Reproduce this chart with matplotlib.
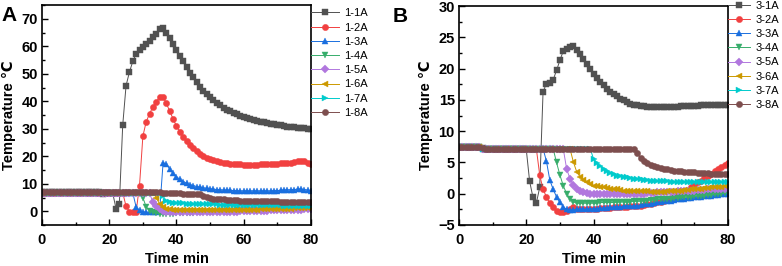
import matplotlib
matplotlib.use("Agg")
import matplotlib.pyplot as plt

plt.rcParams['font.family'] = ['Liberation Sans', 'DejaVu Sans']
plt.rcParams['font.weight'] = 'bold'

# time axis, one reading per minute
t = list(range(81))

# ---- panel A data ----
a1 = [6.9]*18 + [6.1, 6.8, 6.8, 6.8, 1.0, 2.6, 31.2, 45.7, 50.6, 54.5, 57.3, 58.6,
      59.7, 61.0, 62.0, 63.2, 64.6, 66.1, 66.5, 65.0, 62.9, 60.7,
      58.6, 56.4, 54.5, 52.3, 50.4, 48.7, 47.0, 45.3, 43.7, 42.5,
      41.4, 40.3, 39.3, 38.5, 37.6, 36.9, 36.3, 35.7, 35.2, 34.7,
      34.3, 33.9, 33.5, 33.2, 32.9, 32.6, 32.3, 32.0, 31.8, 31.6,
      31.4, 31.2, 31.0, 30.8, 30.7, 30.5, 30.4, 30.2, 30.1, 29.9,
      29.8]
a2 = [6.8]*25 + [1.8, -0.1, -0.4, -0.1, 9.3,
      27.3, 32.6, 35.5, 38.0, 39.9, 41.4, 41.6, 39.2, 36.3, 33.6,
      30.9, 29.0, 27.0, 25.6, 24.1, 22.9, 21.8, 20.9, 20.0, 19.4,
      18.9, 18.5, 18.1, 17.8, 17.6, 17.4, 17.3, 17.2, 17.1, 17.1,
      17.0, 17.0, 17.0, 17.0, 17.0, 17.1, 17.1, 17.2, 17.2, 17.3,
      17.3, 17.4, 17.5, 17.6, 17.7, 17.9, 18.1, 18.3, 18.1, 17.6,
      17.3]
a3 = [6.7]*28 + [1.5, 0.3,
      -0.3, -0.4, -0.4, -0.4, -0.3, 0.5, 17.5, 17.2, 15.3, 13.8,
      12.6, 11.6, 10.8, 10.2, 9.7, 9.3, 9.0, 8.7, 8.5, 8.3,
      8.1, 8.0, 7.9, 7.8, 7.7, 7.6, 7.6, 7.5, 7.5, 7.4,
      7.4, 7.4, 7.4, 7.4, 7.4, 7.4, 7.4, 7.4, 7.4, 7.5,
      7.5, 7.6, 7.7, 7.8, 7.8, 7.9, 8.0, 8.0, 7.9, 7.7,
      7.5]
a4 = [6.6]*30 + [5.0, 1.5, 0.2, -0.4, -0.7, -0.9, -1.0, -1.0, -1.0, -0.9,
      -0.8, -0.8, -0.7, -0.6, -0.6, -0.5, -0.4, -0.4, -0.3, -0.3,
      -0.2, -0.1, -0.1, 0.0, 0.0, 0.1, 0.2, 0.2, 0.3, 0.3,
      0.4, 0.5, 0.5, 0.6, 0.6, 0.7, 0.7, 0.8, 0.8, 0.9,
      0.9, 0.9, 1.0, 1.0, 1.1, 1.1, 1.1, 1.2, 1.2, 1.2,
      1.3]
a5 = [6.6]*33 + [3.2, 1.8, 0.8, 0.2, -0.1, -0.2, -0.3,
      -0.3, -0.3, -0.3, -0.3, -0.3, -0.3, -0.3, -0.3, -0.3, -0.3,
      -0.3, -0.3, -0.2, -0.2, -0.2, -0.2, -0.1, -0.1, -0.1, 0.0,
      0.0, 0.0, 0.1, 0.1, 0.1, 0.2, 0.2, 0.2, 0.3, 0.3,
      0.4, 0.4, 0.4, 0.5, 0.5, 0.6, 0.6, 0.6, 0.7, 0.7,
      0.8]
a6 = [6.6]*34 + [5.0, 2.5, 1.5, 1.0, 0.7, 0.5,
      0.4, 0.4, 0.3, 0.3, 0.3, 0.3, 0.3, 0.3, 0.3, 0.3,
      0.3, 0.3, 0.3, 0.3, 0.4, 0.4, 0.4, 0.4, 0.5, 0.5,
      0.5, 0.5, 0.6, 0.6, 0.6, 0.7, 0.7, 0.7, 0.8, 0.8,
      0.9, 0.9, 0.9, 1.0, 1.0, 1.1, 1.1, 1.1, 1.2, 1.2,
      1.3]
a7 = [6.6]*36 + [5.5, 3.8, 3.3, 3.1,
      3.0, 2.9, 2.9, 2.8, 2.8, 2.7, 2.7, 2.6, 2.6, 2.6,
      2.5, 2.5, 2.5, 2.4, 2.4, 2.3, 2.3, 2.3, 2.3, 2.2,
      2.2, 2.2, 2.2, 2.2, 2.1, 2.1, 2.1, 2.1, 2.1, 2.1,
      2.1, 2.1, 2.0, 2.0, 2.0, 2.0, 2.0, 2.0, 2.0, 2.0,
      2.0]
a8 = [6.9]*36 + [6.8, 6.8, 6.7, 6.6,
      6.6, 6.5, 6.4, 6.4, 6.3, 6.3, 6.3, 6.2, 5.6, 5.1,
      4.8, 4.6, 4.5, 4.4, 4.3, 4.2, 4.1, 4.0, 4.0, 3.9,
      3.9, 3.8, 3.8, 3.8, 3.7, 3.7, 3.7, 3.6, 3.6, 3.6,
      3.6, 3.5, 3.5, 3.5, 3.5, 3.4, 3.4, 3.4, 3.3, 3.3,
      3.2]

# ---- panel B data ----
base_b = [7.4]*7 + [7.2] + [7.1]*13
b1 = [7.5]*7 + [7.3] + [7.1]*13 + [2.0, -0.6, -1.5, 1.0, 16.3, 17.6, 17.7, 18.2, 19.7,
      21.3, 22.8, 23.1, 23.4, 23.6, 23.0, 22.3, 21.5, 20.7, 19.9,
      19.2, 18.5, 17.8, 17.3, 16.8, 16.3, 15.9, 15.6, 15.2, 14.9,
      14.6, 14.4, 14.2, 14.1, 14.0, 14.0, 13.9, 13.9, 13.9, 13.9,
      13.9, 13.9, 13.9, 13.9, 13.9, 13.9, 14.0, 14.0, 14.0, 14.0,
      14.0, 14.0, 14.1, 14.1, 14.1, 14.1, 14.1, 14.2, 14.2, 14.2,
      14.2]
b2 = base_b + [7.2]*3 + [3.0, 0.7, -0.5, -1.5, -2.2, -2.7,
      -2.9, -3.0, -2.8, -2.4, -2.2, -2.4, -2.5, -2.5, -2.5, -2.4,
      -2.4, -2.4, -2.3, -2.3, -2.3, -2.3, -2.2, -2.2, -2.2, -2.1,
      -2.1, -2.0, -2.0, -1.9, -1.9, -1.8, -1.7, -1.6, -1.5, -1.4,
      -1.3, -1.1, -0.9, -0.7, -0.5, -0.4, -0.1, 0.3, 0.6, 1.0,
      1.4, 1.8, 2.1, 2.5, 2.8, 3.2, 3.6, 3.9, 4.3, 4.6,
      4.9]
b3 = base_b + [7.2]*5 + [5.2, 2.2, 0.7, -0.5,
      -1.4, -2.1, -2.5, -2.6, -2.6, -2.5, -2.5, -2.5, -2.5, -2.4,
      -2.4, -2.4, -2.3, -2.3, -2.3, -2.2, -2.2, -2.1, -2.1, -2.0,
      -2.0, -2.0, -1.9, -1.9, -1.8, -1.7, -1.7, -1.6, -1.5, -1.4,
      -1.3, -1.2, -1.2, -1.1, -1.0, -0.9, -0.9, -0.8, -0.7, -0.7,
      -0.6, -0.5, -0.5, -0.4, -0.4, -0.3, -0.2, -0.2, -0.1, -0.1,
      0.0]
b4 = base_b + [7.2]*8 + [5.0,
      3.0, 1.3, 0.0, -0.8, -1.3, -1.5, -1.5, -1.5, -1.5, -1.5,
      -1.5, -1.5, -1.4, -1.4, -1.4, -1.4, -1.4, -1.3, -1.3, -1.3,
      -1.3, -1.3, -1.2, -1.2, -1.2, -1.1, -1.1, -1.0, -1.0, -0.9,
      -0.9, -0.9, -0.8, -0.8, -0.7, -0.7, -0.6, -0.6, -0.5, -0.5,
      -0.4, -0.4, -0.3, -0.3, -0.2, -0.2, -0.1, 0.0, 0.0, 0.1,
      0.2]
b5 = base_b + [7.2]*11 + [4.0, 2.4, 1.4, 0.8, 0.4, 0.2, 0.1, 0.0,
      0.0, 0.0, -0.1, -0.1, -0.1, -0.1, -0.1, -0.1, -0.1, -0.1,
      -0.1, -0.1, -0.1, 0.0, 0.0, 0.0, 0.1, 0.1, 0.1, 0.2,
      0.2, 0.2, 0.3, 0.3, 0.3, 0.4, 0.4, 0.4, 0.5, 0.5,
      0.5, 0.6, 0.6, 0.6, 0.7, 0.7, 0.7, 0.8, 0.8, 0.8,
      0.9]
b6 = base_b + [7.2]*13 + [5.1, 3.5, 2.7, 2.2, 1.8, 1.5,
      1.3, 1.2, 1.1, 1.0, 0.9, 0.8, 0.7, 0.7, 0.6, 0.5,
      0.5, 0.5, 0.4, 0.4, 0.4, 0.4, 0.4, 0.3, 0.3, 0.3,
      0.3, 0.3, 0.4, 0.4, 0.4, 0.5, 0.5, 0.6, 0.6, 0.7,
      0.7, 0.8, 0.8, 0.9, 0.9, 1.0, 1.0, 1.1, 1.1, 1.2,
      1.3]
b7 = base_b + [7.2]*19 + [5.6, 4.9, 4.4, 4.0, 3.6, 3.3, 3.1, 2.9, 2.8, 2.7,
      2.6, 2.5, 2.4, 2.3, 2.3, 2.2, 2.2, 2.1, 2.1, 2.0,
      2.0, 2.0, 2.0, 1.9, 1.9, 1.9, 1.9, 1.9, 1.8, 1.8,
      1.8, 1.8, 1.8, 1.8, 1.8, 1.8, 1.8, 1.8, 1.8, 1.8,
      1.8]
b8 = [7.5]*7 + [7.3] + [7.1]*13 + [7.2]*32 + [6.5, 5.7, 5.2, 4.9, 4.6, 4.4, 4.2,
      4.1, 4.0, 3.9, 3.8, 3.7, 3.6, 3.6, 3.5, 3.5, 3.4,
      3.4, 3.3, 3.3, 3.3, 3.3, 3.2, 3.2, 3.2, 3.2, 3.2,
      3.2]

series_a = [a1, a2, a3, a4, a5, a6, a7, a8]
series_b = [b1, b2, b3, b4, b5, b6, b7, b8]
labels_a = ['1-1A', '1-2A', '1-3A', '1-4A', '1-5A', '1-6A', '1-7A', '1-8A']
labels_b = ['3-1A', '3-2A', '3-3A', '3-4A', '3-5A', '3-6A', '3-7A', '3-8A']

colors = ['#515151', '#F14040', '#1A6FDF', '#37AD6B',
          '#B177DE', '#CC9900', '#00CBCC', '#7D4E4E']
markers = ['s', 'o', '^', 'v', 'D', '<', '>', 'o']
msizes = [4.2, 4.5, 4.5, 4.5, 3.7, 4.5, 4.5, 4.5]


def draw(ax, data, labels, ylim, yticks, yminor, letter, letter_x, leg_y, hlen):
    for y, lab, c, m, ms in zip(data, labels, colors, markers, msizes):
        ax.plot(t, y, color=c, lw=0.7, marker=m, ms=ms, mec=c, mew=0.3, label=lab)
    ax.set_xlim(0, 80)
    ax.set_ylim(*ylim)
    ax.set_xticks([0, 20, 40, 60, 80])
    ax.set_xticks([10, 30, 50, 70], minor=True)
    ax.set_yticks(yticks)
    ax.set_yticks(yminor, minor=True)
    ax.tick_params(which='both', direction='in', top=False, right=False,
                   labelsize=10.5, width=1)
    ax.tick_params(which='major', length=4)
    ax.tick_params(which='minor', length=2.5)
    ax.tick_params(axis='x', pad=6)
    ax.tick_params(axis='y', pad=3)
    for s in ax.spines.values():
        s.set_linewidth(1.2)
    ax.set_xlabel('Time min', fontsize=10.5, fontweight='bold')
    ax.set_ylabel('Temperature \u2103', fontsize=10.5, fontweight='bold')
    ax.xaxis.set_label_coords(0.5, -0.122)
    ax.yaxis.set_label_coords(-0.097, 0.5)
    ax.legend(loc='upper left', bbox_to_anchor=(1.0, leg_y), frameon=False,
              prop={'size': 8, 'weight': 'normal'}, handlelength=hlen,
              handletextpad=0.5, labelspacing=0.38, borderpad=0, borderaxespad=0)
    ax.text(letter_x, 0.995, letter, transform=ax.transAxes, fontsize=15,
            fontweight='bold', ha='right', va='top')


fig = plt.figure(figsize=(7.82, 2.66), dpi=100)
axA = fig.add_axes([42/782, 41/266, 269/782, 220/266])
axB = fig.add_axes([459/782, 41/266, 269/782, 219/266])

draw(axA, series_a, labels_a, (-5, 75), [0, 10, 20, 30, 40, 50, 60, 70],
     [-5, 5, 15, 25, 35, 45, 55, 65, 75], 'A', -0.095, 0.985, 2.5)
draw(axB, series_b, labels_b, (-5, 30), [-5, 0, 5, 10, 15, 20, 25, 30],
     [-2.5, 2.5, 7.5, 12.5, 17.5, 22.5, 27.5], 'B', -0.19, 1.025, 2.0)

fig.savefig('out.png', dpi=100)
